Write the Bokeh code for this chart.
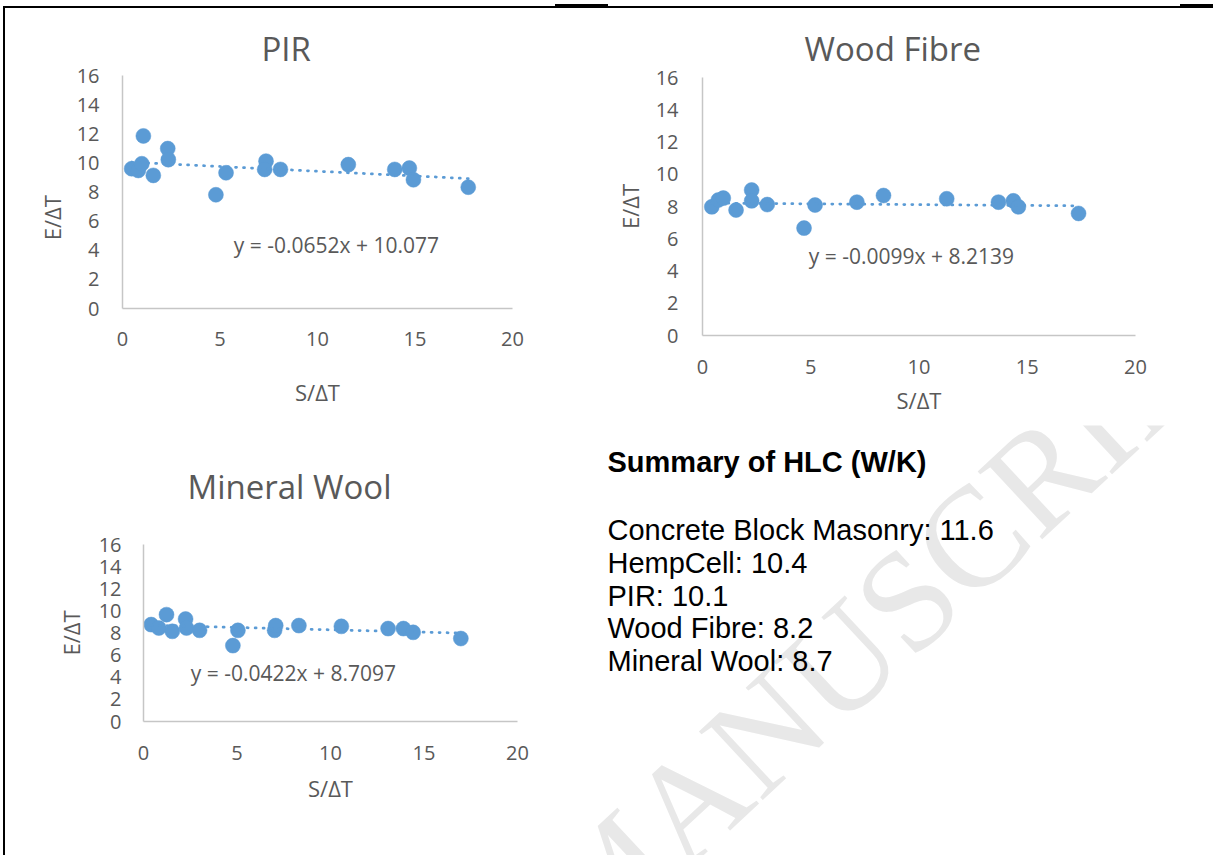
from bokeh.plotting import figure
from bokeh.layouts import column, row
from bokeh.models import Range1d, Label, FixedTicker, Spacer
from bokeh.embed import file_html
from bokeh.resources import INLINE

# ---------------- data ----------------
x_ticks = [0, 5, 10, 15, 20]
y_ticks = [0, 2, 4, 6, 8, 10, 12, 14, 16]
x_label = "S/ΔT"
y_label = "E/ΔT"

pir_title = "PIR"
pir_x = [0.47, 0.81, 0.99, 1.07, 1.58, 2.32, 2.35, 4.79, 5.31, 7.36, 7.29, 8.10, 11.58, 13.96, 14.71, 14.92, 17.73]
pir_y = [9.60, 9.48, 9.94, 11.85, 9.14, 10.98, 10.22, 7.81, 9.32, 10.12, 9.55, 9.55, 9.88, 9.55, 9.64, 8.84, 8.33]
pir_slope = -0.0652
pir_intercept = 10.077
pir_eq = "y = -0.0652x + 10.077"

wood_title = "Wood Fibre"
wood_x = [0.43, 0.73, 0.96, 1.55, 2.27, 2.27, 2.99, 4.69, 5.20, 7.13, 8.36, 11.28, 13.67, 14.36, 14.59, 17.37]
wood_y = [7.98, 8.40, 8.52, 7.78, 9.02, 8.35, 8.12, 6.66, 8.09, 8.27, 8.68, 8.48, 8.27, 8.35, 7.98, 7.57]
wood_slope = -0.0099
wood_intercept = 8.2139
wood_eq = "y = -0.0099x + 8.2139"

mw_title = "Mineral Wool"
mw_x = [0.41, 0.82, 1.23, 1.54, 2.25, 2.30, 3.00, 4.78, 5.05, 7.01, 7.07, 8.31, 10.58, 13.08, 13.90, 14.42, 16.97]
mw_y = [8.76, 8.45, 9.66, 8.15, 9.26, 8.45, 8.24, 6.86, 8.24, 8.24, 8.67, 8.67, 8.60, 8.40, 8.40, 8.06, 7.50]
mw_slope = -0.0422
mw_intercept = 8.7097
mw_eq = "y = -0.0422x + 8.7097"

summary_heading = "Summary of HLC (W/K)"
summary_names = ["Concrete Block Masonry", "HempCell", "PIR", "Wood Fibre", "Mineral Wool"]
summary_values = [11.6, 10.4, 10.1, 8.2, 8.7]
watermark = "MANUSCRIPT"

# ---------------- styling ----------------
BLUE = "#5b9bd5"
GREY = "#595959"
AXIS = "#c6c6c6"
FONT = "Open Sans"


def chart(title, xs, ys, slope, intercept, eq, eq_xy, g, ylab):
    p = figure(width=g["w"], height=g["h"], x_range=Range1d(0, 20), y_range=Range1d(0, 16),
               output_backend="svg", toolbar_location=None, frame_align=False,
               min_border_left=g["l"], min_border_right=g["r"],
               min_border_top=g["t"], min_border_bottom=g["b"])
    p.outline_line_color = None
    p.grid.visible = False
    p.background_fill_color = "white"
    p.border_fill_color = "white"

    p.title.text = title
    p.title.text_font = FONT
    p.title.text_font_size = "33px"
    p.title.text_font_style = "normal"
    p.title.text_color = GREY
    p.title.align = "left"
    p.title.offset = g["toff"]
    p.title.standoff = g["tst"]

    p.xaxis.ticker = FixedTicker(ticks=x_ticks)
    p.yaxis.ticker = FixedTicker(ticks=y_ticks)
    p.xaxis.axis_label = x_label
    p.yaxis.axis_label = ylab
    for ax in (p.xaxis, p.yaxis):
        ax.axis_line_color = AXIS
        ax.axis_line_width = 1.5
        ax.major_tick_line_color = None
        ax.minor_tick_line_color = None
        ax.major_tick_in = 0
        ax.major_tick_out = 0
        ax.major_label_text_font = FONT
        ax.major_label_text_font_size = "20px"
        ax.major_label_text_color = GREY
        ax.axis_label_text_font = FONT
        ax.axis_label_text_font_size = "22px"
        ax.axis_label_text_font_style = "normal"
        ax.axis_label_text_color = GREY
    p.xaxis.major_label_standoff = g["xs"]
    p.xaxis.axis_label_standoff = g["xls"]
    p.yaxis.major_label_standoff = g["ys"]
    p.yaxis.axis_label_standoff = g["yls"]

    p.scatter(xs, ys, size=15, fill_color=BLUE, line_color=BLUE, line_width=0.5)

    x0, x1 = min(xs), max(xs)
    p.line([x0, x1], [slope * x0 + intercept, slope * x1 + intercept],
           line_color=BLUE, line_width=2.75, line_dash="1 7", line_cap="round")

    p.add_layout(Label(x=eq_xy[0], y=eq_xy[1], text=eq, text_font=FONT, text_font_size="21px",
                       text_color=GREY, text_align="center", text_baseline="middle"))
    return p


p_pir = chart(pir_title, pir_x, pir_y, pir_slope, pir_intercept, pir_eq, (10.97, 4.37),
              dict(w=551, h=417, l=117, r=44, t=67, b=117, toff=139, tst=9,
                   xs=23, xls=28, ys=23, yls=7),
              y_label + "\u00a0" * 9)
p_wood = chart(wood_title, wood_x, wood_y, wood_slope, wood_intercept, wood_eq, (9.65, 4.94),
               dict(w=657, h=417, l=146, r=78, t=69, b=90, toff=102, tst=14,
                    xs=24, xls=8, ys=24, yls=8),
               y_label)
p_mw = chart(mw_title, mw_x, mw_y, mw_slope, mw_intercept, mw_eq, (8.02, 4.37),
             dict(w=551, h=430, l=138, r=39, t=118, b=134, toff=44, tst=72,
                  xs=24, xls=10, ys=22, yls=10),
             y_label)

# ---------------- summary panel ----------------
SW, SH = 657, 430
ps = figure(width=SW, height=SH, x_range=Range1d(0, SW), y_range=Range1d(0, SH),
            output_backend="svg", toolbar_location=None, frame_align=False,
            x_axis_type=None, y_axis_type=None,
            min_border_left=0, min_border_right=0, min_border_top=0, min_border_bottom=0)
ps.outline_line_color = None
ps.grid.visible = False
ps.background_fill_color = "white"
ps.border_fill_color = "white"

ps.add_layout(Label(x=339, y=245, text=watermark, text_font="Liberation Serif",
                    text_font_size="143px", text_color="#e8e8e8", angle=43, angle_units="deg",
                    text_align="center", text_baseline="middle"))

ps.add_layout(Label(x=51, y=394, text=summary_heading, text_font="Liberation Sans",
                    text_font_size="29px", text_font_style="bold", text_color="black",
                    text_align="left", text_baseline="alphabetic"))
for i, (name, val) in enumerate(zip(summary_names, summary_values)):
    ps.add_layout(Label(x=51, y=325.5 - 32.75 * i, text=f"{name}: {val}", text_font="Liberation Sans",
                        text_font_size="29px", text_color="black",
                        text_align="left", text_baseline="alphabetic"))

# ---------------- page frame lines ----------------
BLACK = {"background-color": "black"}
top_strip = column(
    Spacer(width=1213, height=4),
    row(Spacer(width=555, height=2), Spacer(width=53, height=2, styles=BLACK),
        Spacer(width=572, height=2), Spacer(width=33, height=2, styles=BLACK)),
    row(Spacer(width=3, height=2), Spacer(width=1210, height=2, styles=BLACK)),
)
content = column(row(p_pir, p_wood), row(p_mw, ps))
main = row(Spacer(width=3, height=847), Spacer(width=2, height=847, styles=BLACK), content)
layout = column(top_strip, main)

with open("out.html", "w") as f:
    f.write(file_html(layout, INLINE))
